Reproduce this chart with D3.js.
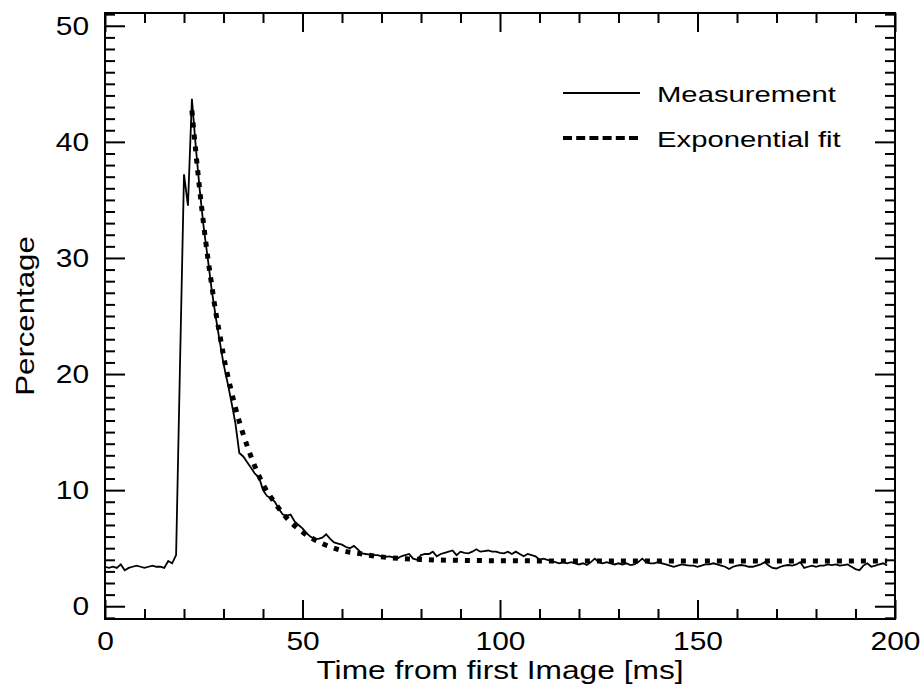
<!DOCTYPE html>
<html>
<head>
<meta charset="utf-8">
<script src="https://cdn.jsdelivr.net/npm/d3@7"></script>
<style>
  html, body { margin: 0; padding: 0; background: #fff; }
  svg { display: block; font-family: "Liberation Sans", Arial, sans-serif; }
</style>
</head>
<body>
<div id="chart"></div>
<script>
// measurement, one sample per ms (0..198)
const measTimes = d3.range(0, 199);
const measValues = [
  3.4, 3.3, 3.4, 3.3, 3.6, 3.1, 3.3, 3.4, 3.5, 3.4,
  3.3, 3.4, 3.5, 3.4, 3.4, 3.3, 3.9, 3.7, 4.4, 21.0,
  37.2, 34.5, 43.7, 39.5, 35.8, 32.6, 30.0, 27.3, 25.0, 22.9,
  20.9, 19.3, 17.6, 15.8, 13.2, 12.9, 12.4, 11.9, 11.4, 11.1,
  10.0, 9.5, 9.3, 9.0, 8.4, 7.9, 7.8, 7.9, 7.3, 7.0,
  6.7, 6.3, 6.0, 5.8, 5.8, 5.9, 6.2, 5.8, 5.5, 5.4,
  5.3, 5.1, 5.0, 5.2, 4.9, 4.55, 4.5, 4.45, 4.4, 4.4,
  4.3, 4.25, 4.3, 4.2, 4.1, 4.3, 4.4, 4.5, 4.1, 4.0,
  4.4, 4.5, 4.5, 4.7, 4.3, 4.5, 4.6, 4.7, 4.8, 4.4,
  4.7, 4.6, 4.55, 4.7, 4.9, 4.7, 4.75, 4.8, 4.7, 4.7,
  4.6, 4.55, 4.7, 4.5, 4.7, 4.5, 4.3, 4.5, 4.4, 4.3,
  4.0, 4.1, 4.0, 3.9, 3.8, 3.7, 3.8, 3.7, 3.8, 3.7,
  3.6, 3.7, 3.55, 3.8, 4.1, 3.8, 3.7, 3.8, 3.7, 3.6,
  3.7, 3.6, 3.7, 3.55, 3.6, 3.8, 4.1, 3.8, 3.7, 3.7,
  3.8, 3.7, 3.6, 3.5, 3.4, 3.5, 3.6, 3.55, 3.5, 3.5,
  3.4, 3.5, 3.6, 3.6, 3.7, 3.6, 3.5, 3.4, 3.2, 3.4,
  3.5, 3.55, 3.5, 3.4, 3.4, 3.5, 3.6, 3.8, 3.5, 3.3,
  3.25, 3.4, 3.5, 3.55, 3.5, 3.6, 3.8, 3.3, 3.4, 3.5,
  3.4, 3.5, 3.5, 3.6, 3.55, 3.6, 3.5, 3.55, 3.6, 3.4,
  3.2, 3.1, 3.5, 3.7, 3.4, 3.5, 3.6, 3.7, 3.5
];

// exponential fit
const fitTimes = [22, 23, 24, 25, 26, 27, 28, 29, 30, 32, 34, 36, 38, 40, 43, 46, 50, 55, 60, 65, 70, 80, 90, 100, 120, 150, 198];
const fitValues = [42.7, 39.1, 35.8, 32.8, 30.1, 27.7, 25.4, 23.5, 21.6, 18.5, 15.9, 13.8, 12.0, 10.5, 8.9, 7.6, 6.4, 5.4, 4.8, 4.5, 4.25, 4.03, 3.95, 3.92, 3.9, 3.9, 3.9];

const xMajor = [0, 50, 100, 150, 200];
const yMajor = [0, 10, 20, 30, 40, 50];
const legendLabels = ["Measurement", "Exponential fit"];

const W = 922, H = 689;
const mLeft = 105, mRight = 895, mTop = 13, mBottom = 619;

const svg = d3.select("#chart").append("svg")
  .attr("width", W)
  .attr("height", H);

const x = d3.scaleLinear().domain([0, 200]).range([mLeft, mRight]);
const y = d3.scaleLinear().domain([-1.1, 51.1]).range([mBottom, mTop]);

const xMinor = d3.range(0, 201, 10).filter(d => d % 50 !== 0);
const yMinor = d3.range(-1, 52, 1).filter(d => d % 10 !== 0);

const fontSize = 26;

// the original lettering is wider than Liberation Sans, stretch it
function stretch(sel, k) {
  sel.each(function () {
    const w = this.getComputedTextLength();
    d3.select(this).attr("textLength", w * k).attr("lengthAdjust", "spacingAndGlyphs");
  });
}

function styleAxis(g) {
  g.select(".domain").remove();
  g.selectAll("line").attr("stroke", "#000").attr("stroke-width", 2);
  g.selectAll("text").attr("font-size", fontSize).attr("fill", "#000")
    .attr("font-family", "'Liberation Sans', Arial, sans-serif")
    .call(stretch, 1.15);
}

// bottom
svg.append("g").attr("transform", `translate(0,${mBottom})`)
  .call(d3.axisBottom(x).tickValues(xMajor).tickFormat(d3.format("d")).tickSize(-19).tickPadding(13))
  .call(styleAxis);
svg.append("g").attr("transform", `translate(0,${mBottom})`)
  .call(d3.axisBottom(x).tickValues(xMinor).tickFormat("").tickSize(-10))
  .call(styleAxis);
// top
svg.append("g").attr("transform", `translate(0,${mTop})`)
  .call(d3.axisTop(x).tickValues(xMajor).tickFormat("").tickSize(-19))
  .call(styleAxis);
svg.append("g").attr("transform", `translate(0,${mTop})`)
  .call(d3.axisTop(x).tickValues(xMinor).tickFormat("").tickSize(-10))
  .call(styleAxis);
// left
svg.append("g").attr("transform", `translate(${mLeft},0)`)
  .call(d3.axisLeft(y).tickValues(yMajor).tickFormat(d3.format("d")).tickSize(-20).tickPadding(16))
  .call(styleAxis);
svg.append("g").attr("transform", `translate(${mLeft},0)`)
  .call(d3.axisLeft(y).tickValues(yMinor).tickFormat("").tickSize(-10))
  .call(styleAxis);
// right
svg.append("g").attr("transform", `translate(${mRight},0)`)
  .call(d3.axisRight(y).tickValues(yMajor).tickFormat("").tickSize(-20))
  .call(styleAxis);
svg.append("g").attr("transform", `translate(${mRight},0)`)
  .call(d3.axisRight(y).tickValues(yMinor).tickFormat("").tickSize(-10))
  .call(styleAxis);

// frame
svg.append("rect")
  .attr("x", mLeft).attr("y", mTop)
  .attr("width", mRight - mLeft).attr("height", mBottom - mTop)
  .attr("fill", "none").attr("stroke", "#000").attr("stroke-width", 2);

// curves
const measLine = d3.line()
  .x((d, i) => x(measTimes[i]))
  .y(d => y(d));

svg.append("path")
  .datum(measValues)
  .attr("d", measLine)
  .attr("fill", "none")
  .attr("stroke", "#000")
  .attr("stroke-width", 1.8)
  .attr("stroke-linejoin", "miter");

const fitLine = d3.line()
  .x((d, i) => x(fitTimes[i]))
  .y(d => y(d))
  .curve(d3.curveMonotoneX);

svg.append("path")
  .datum(fitValues)
  .attr("d", fitLine)
  .attr("fill", "none")
  .attr("stroke", "#000")
  .attr("stroke-width", 5)
  .attr("stroke-dasharray", "5,7");

// legend
const legend = svg.append("g");
legendLabels.forEach((label, i) => {
  const ly = 93 + i * 45;
  legend.append("line")
    .attr("x1", 563).attr("x2", 640)
    .attr("y1", ly).attr("y2", ly)
    .attr("stroke", "#000")
    .attr("stroke-width", i === 0 ? 1.8 : 4)
    .attr("stroke-dasharray", i === 0 ? null : "9,4.2");
  legend.append("text")
    .attr("x", 657).attr("y", ly + 8.5)
    .attr("font-size", 22.5)
    .attr("fill", "#000")
    .text(label)
    .call(stretch, 1.3);
});

// axis titles
svg.append("text")
  .attr("x", (mLeft + mRight) / 2).attr("y", 679)
  .attr("text-anchor", "middle")
  .attr("font-size", fontSize)
  .text("Time from first Image [ms]")
  .call(stretch, 1.22);

svg.append("text")
  .attr("transform", `translate(34,${(mTop + mBottom) / 2}) rotate(-90)`)
  .attr("text-anchor", "middle")
  .attr("font-size", fontSize)
  .text("Percentage")
  .call(stretch, 1.2);
</script>
</body>
</html>
